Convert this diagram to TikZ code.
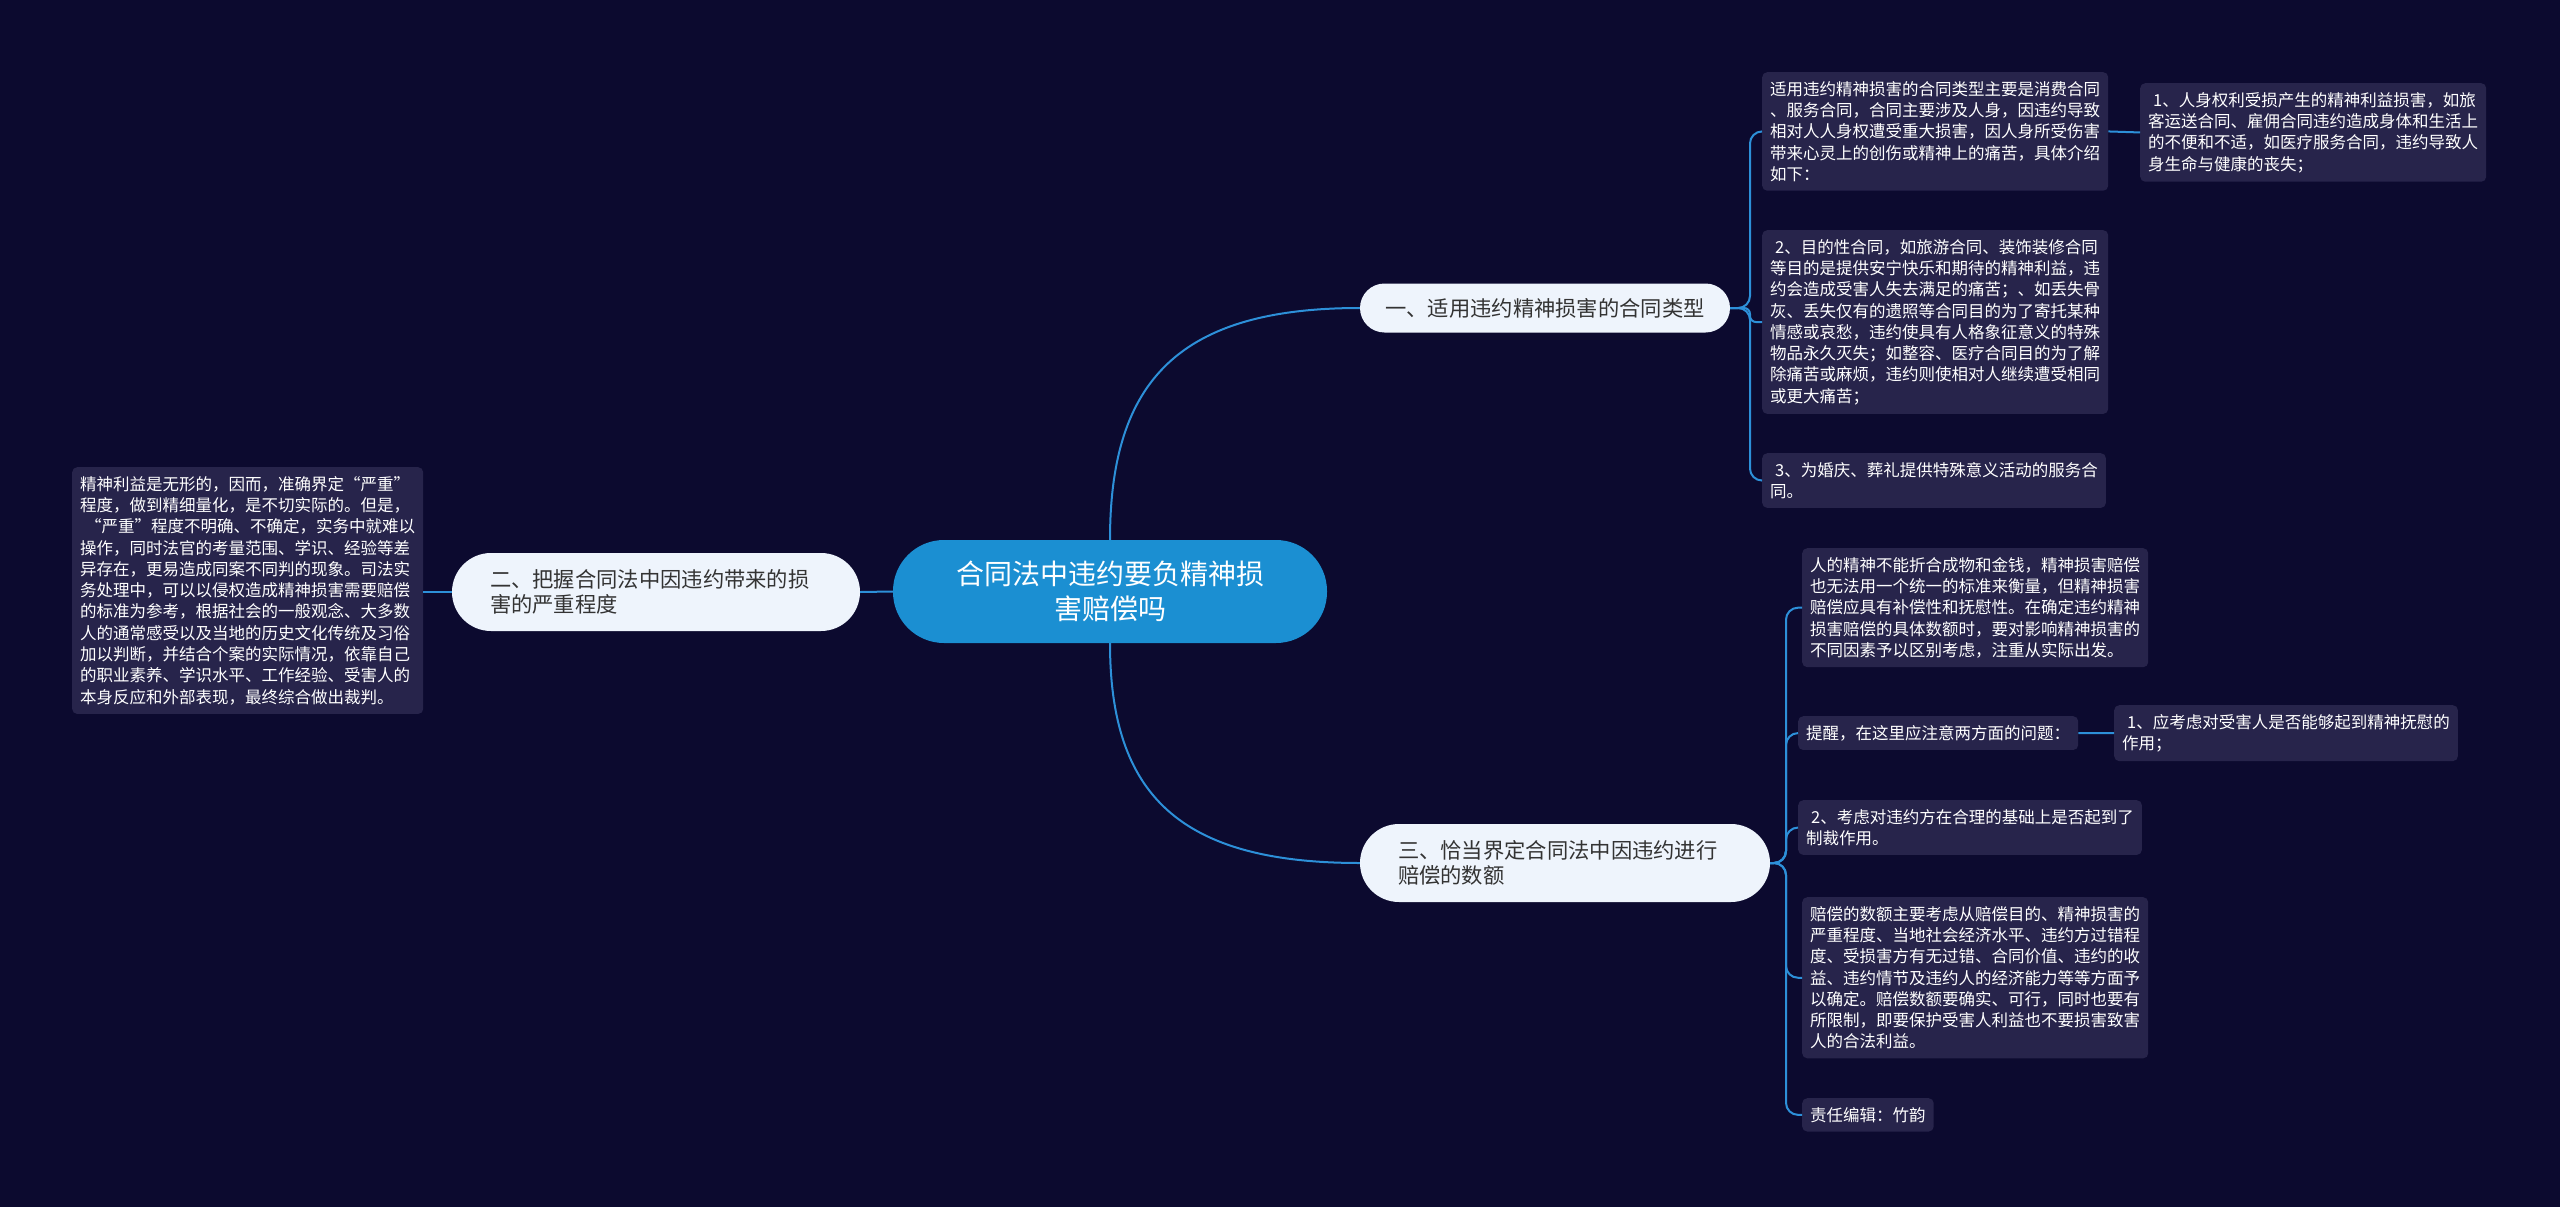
\documentclass[tikz,border=0pt]{standalone}
\usepackage{fontspec}
\newfontfamily\cjk{Noto Sans CJK SC}
\definecolor{bgc}{HTML}{0C0A2F}
\definecolor{leafc}{HTML}{27244B}
\definecolor{brc}{HTML}{EEF4FC}
\definecolor{centc}{HTML}{1B8FD2}
\definecolor{linec}{HTML}{2D90D9}
\definecolor{brtext}{HTML}{333333}
\begin{document}
\begin{tikzpicture}[x=1pt,y=-1pt,
  conn/.style={draw=linec, line width=2pt},
  leaf/.style={fill=leafc, rounded corners=5pt, text=white, font=\cjk\fontsize{16.5}{21.3}\selectfont, align=left, inner xsep=8pt, inner ysep=9pt, anchor=north west},
  branch/.style={fill=brc, text=brtext, font=\cjk\fontsize{21.3}{25.5}\selectfont, inner sep=0pt},
  central/.style={fill=centc, text=white, rounded corners=51pt, minimum width=434pt, minimum height=103pt, align=center, inner sep=0pt, font=\cjk\fontsize{28}{35}\selectfont}]
\useasboundingbox (0,0) rectangle (2560,1207);
\fill[bgc] (0,0) rectangle (2560,1207);

\node[central] (c) at (1110,591.5) {合同法中违约要负精神损\\害赔偿吗};

\node[branch, rounded corners=24.5pt, minimum width=370pt, minimum height=49pt] (b1) at (1545,308) {一、适用违约精神损害的合同类型};
\node[branch, rounded corners=39pt, minimum width=408pt, minimum height=78pt, text width=332pt, align=left] (b2) at (656,592) {二、把握合同法中因违约带来的损\\害的严重程度};
\node[branch, rounded corners=39pt, minimum width=410pt, minimum height=78pt, text width=334pt, align=left] (b3) at (1565,863) {三、恰当界定合同法中因违约进行\\赔偿的数额};

\node[leaf] (l1a) at (1762,72) {适用违约精神损害的合同类型主要是消费合同\\、服务合同，合同主要涉及人身，因违约导致\\相对人人身权遭受重大损害，因人身所受伤害\\带来心灵上的创伤或精神上的痛苦，具体介绍\\如下：};
\node[leaf] (l1a1) at (2140,83) {\hspace*{5pt}1、人身权利受损产生的精神利益损害，如旅\\客运送合同、雇佣合同违约造成身体和生活上\\的不便和不适，如医疗服务合同，违约导致人\\身生命与健康的丧失；};
\node[leaf] (l1b) at (1762,230) {\hspace*{5pt}2、目的性合同，如旅游合同、装饰装修合同\\等目的是提供安宁快乐和期待的精神利益，违\\约会造成受害人失去满足的痛苦；、如丢失骨\\灰、丢失仅有的遗照等合同目的为了寄托某种\\情感或哀愁，违约使具有人格象征意义的特殊\\物品永久灭失；如整容、医疗合同目的为了解\\除痛苦或麻烦，违约则使相对人继续遭受相同\\或更大痛苦；};
\node[leaf] (l1c) at (1762,453) {\hspace*{5pt}3、为婚庆、葬礼提供特殊意义活动的服务合\\同。};

\node[leaf] (l2a) at (72,467) {精神利益是无形的，因而，准确界定“严重”\\程度，做到精细量化，是不切实际的。但是，\\\hspace*{5pt}“严重”程度不明确、不确定，实务中就难以\\操作，同时法官的考量范围、学识、经验等差\\异存在，更易造成同案不同判的现象。司法实\\务处理中，可以以侵权造成精神损害需要赔偿\\的标准为参考，根据社会的一般观念、大多数\\人的通常感受以及当地的历史文化传统及习俗\\加以判断，并结合个案的实际情况，依靠自己\\的职业素养、学识水平、工作经验、受害人的\\本身反应和外部表现，最终综合做出裁判。};

\node[leaf] (l3a) at (1802,548) {人的精神不能折合成物和金钱，精神损害赔偿\\也无法用一个统一的标准来衡量，但精神损害\\赔偿应具有补偿性和抚慰性。在确定违约精神\\损害赔偿的具体数额时，要对影响精神损害的\\不同因素予以区别考虑，注重从实际出发。};
\node[leaf] (l3b) at (1798,716) {提醒，在这里应注意两方面的问题：};
\node[leaf] (l3b1) at (2114,705) {\hspace*{5pt}1、应考虑对受害人是否能够起到精神抚慰的\\作用；};
\node[leaf] (l3c) at (1798,800) {\hspace*{5pt}2、考虑对违约方在合理的基础上是否起到了\\制裁作用。};
\node[leaf] (l3d) at (1802,897) {赔偿的数额主要考虑从赔偿目的、精神损害的\\严重程度、当地社会经济水平、违约方过错程\\度、受损害方有无过错、合同价值、违约的收\\益、违约情节及违约人的经济能力等等方面予\\以确定。赔偿数额要确实、可行，同时也要有\\所限制，即要保护受害人利益也不要损害致害\\人的合法利益。};
\node[leaf] (l3e) at (1802,1098) {责任编辑：竹韵};

\coordinate (s1) at (1750,0);
\coordinate (s3) at (1786,0);

\draw[conn] (c.north) .. controls +(0,-160) and +(-180,0) .. (b1.west);
\draw[conn] (c.south) .. controls +(0,152) and +(-180,0) .. (b3.west);
\draw[conn] (c.west) -- (b2.east);
\draw[conn] (b2.west) -- (l2a.east |- b2.west);

\draw[conn, rounded corners=12pt] (b1.east) -- (b1.east -| s1) |- (l1a.west);
\draw[conn, rounded corners=6pt] (b1.east) -- (b1.east -| s1) |- (l1b.west);
\draw[conn, rounded corners=12pt] (b1.east) -- (b1.east -| s1) |- (l1c.west);
\draw[conn] (l1a.east) -- (l1a1.west);

\draw[conn, rounded corners=12pt] (b3.east) -- (b3.east -| s3) |- (l3a.west);
\draw[conn, rounded corners=12pt] (b3.east) -- (b3.east -| s3) |- (l3b.west);
\draw[conn, rounded corners=12pt] (b3.east) -- (b3.east -| s3) |- (l3c.west);
\draw[conn, rounded corners=12pt] (b3.east) -- (b3.east -| s3) |- (l3d.west);
\draw[conn, rounded corners=12pt] (b3.east) -- (b3.east -| s3) |- (l3e.west);
\draw[conn] (l3b.east) -- (l3b1.west);
\end{tikzpicture}
\end{document}
